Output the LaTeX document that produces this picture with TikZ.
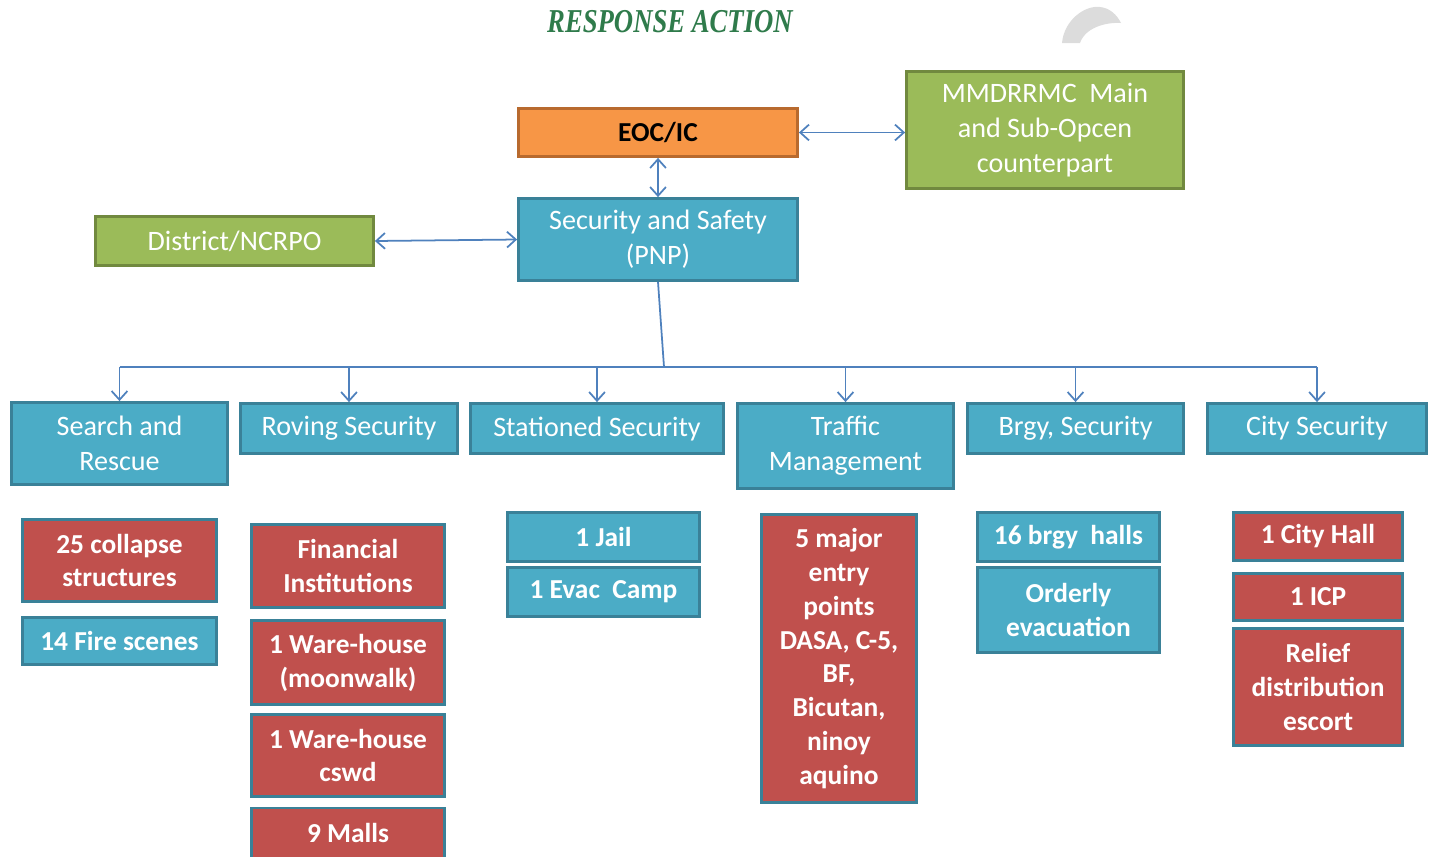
\documentclass[tikz,border=0pt]{standalone}
\usepackage{fontspec}
\setmainfont{Carlito}
\newfontfamily\ttlfont[FakeStretch=0.8]{Liberation Serif}
\usetikzlibrary{arrows.meta}
\definecolor{bfill}{HTML}{4BACC6}
\definecolor{bline}{HTML}{3A8198}
\definecolor{rfill}{HTML}{C0504D}
\definecolor{gfill}{HTML}{9BBB59}
\definecolor{gline}{HTML}{71893F}
\definecolor{ofill}{HTML}{F79646}
\definecolor{oline}{HTML}{B86A2E}
\definecolor{lnblue}{HTML}{4F81BD}
\definecolor{ttlgreen}{HTML}{2F7B4B}
\definecolor{arcgrey}{HTML}{DCDCDC}

\begin{document}
\begin{tikzpicture}[x=0.02cm,y=-0.02cm,
  >={Straight Barb[length=5pt,width=9pt]},
  wh/.style 2 args={minimum width=#1*0.02cm,minimum height=#2*0.02cm},
  box/.style={draw,line width=1.6pt,align=center,inner sep=0pt,text=white},
  hdr/.style={box,fill=bfill,draw=bline,font=\fontsize{16}{19.8}\selectfont},
  grn/.style={hdr,fill=gfill,draw=gline},
  blu/.style={box,fill=bfill,draw=bline,font=\bfseries\fontsize{15.6}{19.3}\selectfont},
  red/.style={blu,fill=rfill},
  conn/.style={draw=lnblue,line width=1pt}]
\useasboundingbox (0,0) rectangle (1435,856);

\node[text=ttlgreen,font=\ttlfont\bfseries\itshape\fontsize{19}{22}\selectfont] (title) at (670,22) {RESPONSE ACTION};
\fill[arcgrey] (1062,43) .. controls (1064,20) and (1085,5) .. (1100,7)
  .. controls (1110,8) and (1117,15) .. (1121,23)
  .. controls (1105,22) and (1085,28) .. (1080,43) -- cycle;

% top part
\node[hdr,fill=ofill,draw=oline,text=black,font=\bfseries\fontsize{15.6}{19.8}\selectfont,wh={279}{48}] (eoc) at (658,132.5) {EOC/IC};
\node[grn,wh={277}{117}] (mmd) at (1045,130) {MMDRRMC\ \ Main\\and Sub-Opcen\\counterpart};
\node[hdr,wh={279}{82}] (pnp) at (658,239.5) {Security and Safety\\(PNP)};
\node[grn,wh={278}{49}] (dist) at (234.5,241) {District/NCRPO};

% groups
\node[hdr,wh={216}{82}] (sar) at (119.5,443.5) {Search and\\Rescue};
\node[hdr,wh={217}{50}] (rov) at (349,428.5) {Roving Security};
\node[hdr,wh={253}{50}] (sta) at (597,428.5) {Stationed Security};
\node[hdr,wh={216}{85}] (trf) at (845.5,446) {Traffic\\Management};
\node[hdr,wh={216}{50}] (brg) at (1075.5,428.5) {Brgy, Security};
\node[hdr,wh={219}{50}] (cty) at (1317,428.5) {City Security};

% items
\node[red,wh={194}{82}] (col) at (119.5,560.5) {25 collapse\\structures};
\node[blu,wh={194}{47}] (fir) at (119.5,641) {14 Fire scenes};
\node[red,wh={193}{83}] (fin) at (348,566) {Financial\\Institutions};
\node[red,wh={193}{84}] (wh1) at (348,662.5) {1 Ware-house\\(moonwalk)};
\node[red,wh={193}{82}] (wh2) at (348,755.5) {1 Ware-house\\cswd};
\node[red,wh={193}{50}] (mal) at (348,833) {9 Malls};
\node[blu,wh={192}{49}] (jal) at (603.5,537) {1 Jail};
\node[blu,wh={192}{49}] (evc) at (603.5,592) {1 Evac\ \ Camp};
\node[red,wh={155}{288}] (maj) at (839,658.5) {5 major\\entry\\points\\DASA, C-5,\\BF,\\Bicutan,\\ninoy\\aquino};
\node[blu,wh={182}{49}] (hal) at (1068.5,537) {16 brgy\ \ halls};
\node[blu,wh={182}{85}] (ord) at (1068.5,610) {Orderly\\evacuation};
\node[red,wh={169}{48}] (cth) at (1318,536.5) {1 City Hall};
\node[red,wh={169}{47}] (icp) at (1318,597) {1 ICP};
\node[red,wh={169}{117}] (rel) at (1318,687) {Relief\\distribution\\escort};

% connectors
\draw[conn,<->] (eoc.east) -- (eoc.east -| mmd.west);
\draw[conn,<->] (eoc) -- (pnp);
\draw[conn,<->] (dist.east) -- (pnp.west);
\coordinate (hub) at (664,367);
\draw[conn] (pnp.south) -- (hub);
\draw[conn] (sar.north |- hub) -- (cty.north |- hub);
\foreach \h in {sar,rov,sta,trf,brg,cty}
  \draw[conn,->] (\h.north |- hub) -- (\h.north);
\end{tikzpicture}
\end{document}
